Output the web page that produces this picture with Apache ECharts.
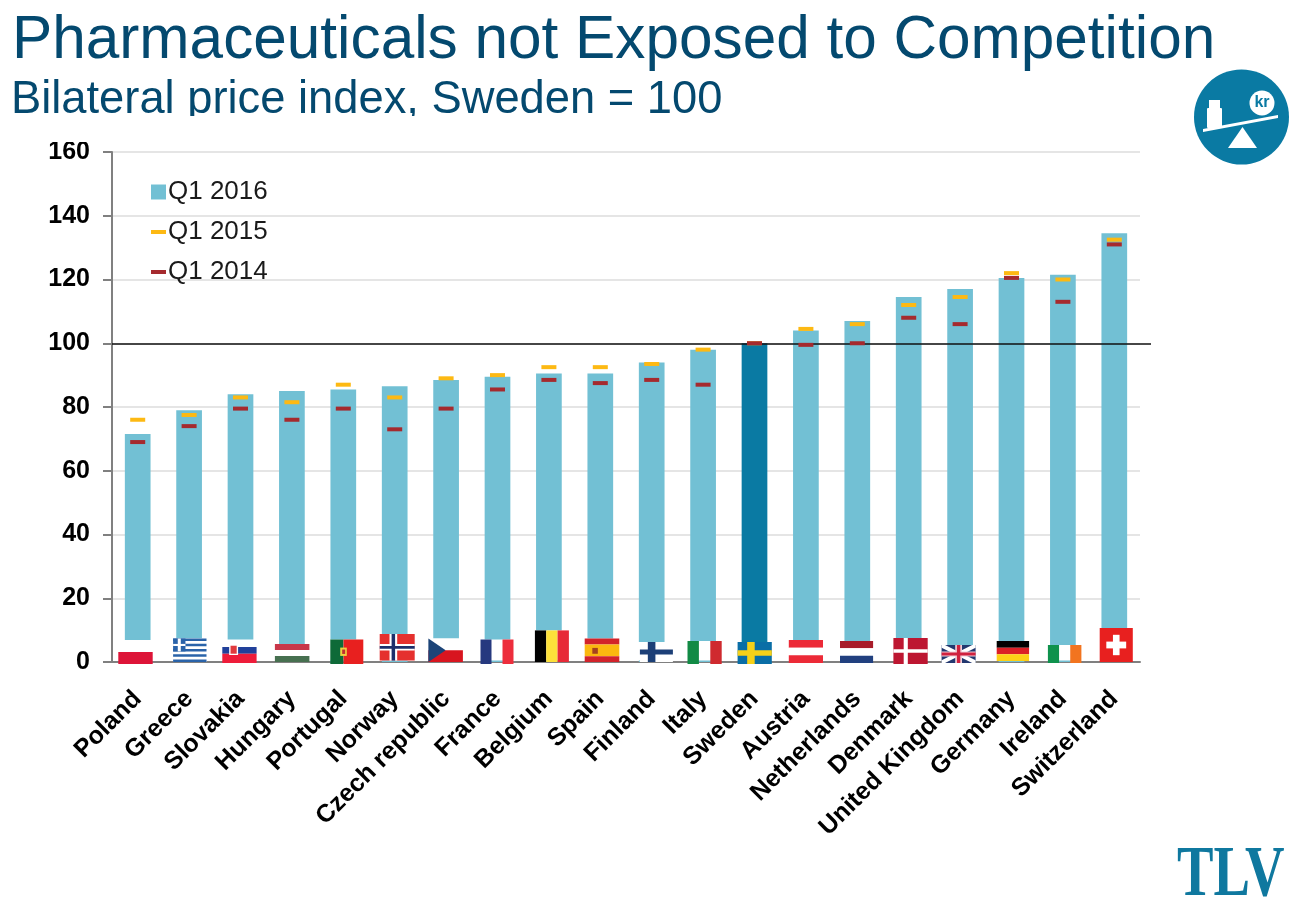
<!DOCTYPE html>
<html><head><meta charset="utf-8">
<style>html,body{margin:0;padding:0;background:#fff}#c{width:1299px;height:902px}</style>
<script src="https://cdn.jsdelivr.net/npm/echarts@6/dist/echarts.min.js"></script>
</head><body><div id="c"></div>
<script>
const countries = ['Poland','Greece','Slovakia','Hungary','Portugal','Norway','Czech republic','France','Belgium','Spain','Finland','Italy','Sweden','Austria','Netherlands','Denmark','United Kingdom','Germany','Ireland','Switzerland'];
const q12016 = [71.5,79,84,85,85.5,86.5,88.5,89.5,90.5,90.5,94,98,100,104,107,114.5,117,120.5,121.5,134.5];
const q12015 = [76,77.5,83,81.5,87,83,89,90,92.5,92.5,93.5,98,100,104.5,106,112,114.5,122,120,132.5];
const q12014 = [69,74,79.5,76,79.5,73,79.5,85.5,88.5,87.5,88.5,87,100,99.5,100,108,106,120.5,113,131];
const yTicks = [0,20,40,60,80,100,120,140,160];

const C = {light:'#72c0d4', dark:'#0a7aa3', yellow:'#fdb913', red:'#a52a2e', title:'#04496f', text:'#1a1a1a'};

// flag placement relative to the category centre and the axis: [dx, width, above, below, maskAbove]
const flagBox = [
 [-19.4,34.4,10,2,22],[-16,33.4,23.5,0,23.5],[-18.2,34.3,15,1,22.5],[-17,34.5,18,0,18],[-13,33,22.5,2,22.5],
 [-15,35,28,-1.4,28],[-17.7,34.5,23.5,0,23.5],[-17,33,22.5,2,22.5],[-14,34,31.6,0,31.6],[-15.6,34.6,23.5,0,23.5],
 [-11.8,33,20,0,20],[-15.6,34.2,21,2,21],[-16.9,34.2,20,2,20],[-17.1,34.2,22,1,22],[-17.3,33.1,21,1,21],
 [-15.3,34.3,24,2,24],[-18.5,34,17,1,17],[-14.8,32.4,21,-1,21],[-15,33.5,17,1,17],[-14.6,33.1,34,0,34]
];
const r=(a,b,c,d,f)=>({t:'r',a,b,c,d,f});
const p=(pts,f)=>({t:'p',pts,f});
const hs=(...cols)=>cols.map((f,i)=>r(0,i/cols.length,1,(i+1)/cols.length,f));
const vs=(...cols)=>cols.map((f,i)=>f?r(i/cols.length,0,(i+1)/cols.length,1,f):null).filter(Boolean);
const nordic=(bg,o,i)=>[r(0,0,1,1,bg),r(.28,0,.5,1,o),r(0,.38,1,.62,o)].concat(i?[r(.34,0,.44,1,i),r(0,.45,1,.55,i)]:[]);
const flagShapes = [
 [r(0,0,1,1,'#dd1438')],
 [r(0,0,1,1,'#fff')].concat([0,2,4,6,8].map(n=>r(0,n/9,1,(n+1)/9,'#2a63a9'))).concat([r(0,0,.37,.55,'#2a63a9'),r(.14,0,.23,.55,'#fff'),r(0,.23,.37,.32,'#fff')]),
 [r(0,0,1,.42,'#21409a'),r(0,.42,1,1,'#ee1c3a'),r(.2,-.16,.46,.5,'#fff'),r(.24,-.08,.42,.42,'#e03a3e')],
 hs('#c8374a','#fff','#477050'),
 [r(0,0,.4,1,'#0e6a38'),r(.4,0,1,1,'#e8201f'),r(.3,.33,.5,.67,'#f0d040'),r(.36,.41,.45,.59,'#c03030')],
 nordic('#e5302e','#fff','#1d2f6b'),
 [r(0,0,1,.5,'#fff'),r(0,.5,1,1,'#d8151f'),p([[0,0],[.5,.5],[0,1]],'#1c4478')],
 vs('#26397f',null,'#ed2e3c'),
 vs('#000','#fde03a','#e72a37'),
 [r(0,0,1,.25,'#d2232a'),r(0,.25,1,.75,'#fbb80f'),r(0,.75,1,1,'#d2232a'),r(.22,.4,.38,.65,'#a5431e')],
 [r(0,0,1,1,'#fff'),r(.24,0,.47,1,'#1c3f77'),r(0,.38,1,.62,'#1c3f77')],
 vs('#128a45',null,'#cf2a2f'),
 nordic('#0a6ea6','#f7d118'),
 hs('#ec2a37','#fff','#ec2a37'),
 hs('#a81c2a','#fff','#21407f'),
 [r(0,0,1,1,'#bd1631'),r(.3,0,.42,1,'#fff'),r(0,.43,1,.57,'#fff')],
 [r(0,0,1,1,'#23386f'),p([[0,0],[.1,0],[1,.85],[1,1],[.9,1],[0,.15]],'#fff'),p([[1,0],[.9,0],[0,.85],[0,1],[.1,1],[1,.15]],'#fff'),r(.4,0,.6,1,'#f0d0d8'),r(0,.36,1,.64,'#f0d0d8'),r(.45,0,.55,1,'#d0213e'),r(0,.42,1,.58,'#d0213e')],
 hs('#000','#db1f26','#fdd016'),
 vs('#0f924d',null,'#f2741f'),
 [r(0,0,1,1,'#e8201f'),r(.4,.2,.6,.8,'#fff'),r(.2,.4,.8,.6,'#fff')]
];

function flagItem(params, api){
  const i = api.value(0), base = api.coord([i,0]), bw = api.size([1,0])[0]*0.5+2;
  const [dx,w,above,below,mask] = flagBox[i];
  const X = base[0]+dx, Y = base[1]-above, H = above+below;
  const kids = [{type:'rect',shape:{x:base[0]-bw/2,y:base[1]-mask,width:bw,height:mask-1.5},style:{fill:'#fff'}}];
  flagShapes[i].forEach(s=>{
    if(s.t==='r') kids.push({type:'rect',shape:{x:X+s.a*w,y:Y+s.b*H,width:(s.c-s.a)*w,height:(s.d-s.b)*H},style:{fill:s.f}});
    else kids.push({type:'polygon',shape:{points:s.pts.map(q=>[X+q[0]*w,Y+q[1]*H])},style:{fill:s.f}});
  });
  return {type:'group',children:kids};
}

const legendBase = (name,top,w,h)=>({show:true,data:[{name,icon:'rect'}],orient:'vertical',left:146,top,itemWidth:w,itemHeight:h,itemGap:0,
  textStyle:{fontFamily:'Liberation Sans',fontSize:26,color:C.text,padding:[0,0,0,-3]},selectedMode:false});

const chart = echarts.init(document.getElementById('c'),null,{renderer:'canvas'});
chart.setOption({
  animation:false,
  backgroundColor:'#fff',
  title:[
    {text:'Pharmaceuticals not Exposed to Competition',left:12,top:11,padding:0,textStyle:{fontFamily:'Liberation Sans',fontSize:60.3,fontWeight:'normal',color:C.title}},
    {text:'Bilateral price index, Sweden = 100',left:11,top:78,padding:0,textStyle:{fontFamily:'Liberation Sans',fontSize:45.3,fontWeight:'normal',color:C.title}}
  ],
  grid:{left:112,right:159,top:152,bottom:240,containLabel:false},
  legend:[
    legendBase('Q1 2016',174,15,15),
    legendBase('Q1 2015',214,15,4),
    legendBase('Q1 2014',254,15,4)
  ],
  xAxis:{type:'category',data:countries,
    axisLine:{lineStyle:{color:'#808080',width:2}},
    axisTick:{length:8,lineStyle:{color:'#808080',width:2}},
    axisLabel:{rotate:45,interval:0,margin:33,fontFamily:'Liberation Sans',fontWeight:'bold',fontSize:25,color:'#000'}},
  yAxis:{type:'value',min:yTicks[0],max:yTicks[yTicks.length-1],interval:20,
    axisLine:{show:true,lineStyle:{color:'#808080',width:2}},
    axisTick:{show:true,length:9,lineStyle:{color:'#808080',width:2}},
    splitLine:{lineStyle:{color:'#dcdcdc',width:1.5}},
    axisLabel:{margin:22,fontFamily:'Liberation Sans',fontWeight:'bold',fontSize:25,color:'#000'}},
  series:[
    {name:'Q1 2016',type:'bar',barWidth:'50%',
     data:q12016.map((v,i)=>countries[i]==='Sweden'?{value:v,itemStyle:{color:C.dark}}:v),
     itemStyle:{color:C.light},
     markLine:{silent:true,symbol:'none',label:{show:false},lineStyle:{color:'#111',width:1.5,type:'solid'},
       data:[[{x:112,yAxis:100},{x:1151,yAxis:100}]]}},
    {name:'Q1 2015',type:'scatter',data:q12015.map((v,i)=>[countries[i],v]),symbol:'rect',symbolSize:[15,4],itemStyle:{color:C.yellow,opacity:1},z:4},
    {name:'Q1 2014',type:'scatter',data:q12014.map((v,i)=>[countries[i],v]),symbol:'rect',symbolSize:[15,4],itemStyle:{color:C.red,opacity:1},z:5},
    {name:'flags',type:'custom',renderItem:flagItem,data:countries.map((c,i)=>[i,0]),encode:{x:0,y:1},z:6,clip:false,silent:true}
  ],
  graphic:[
    {type:'rect',z:100,shape:{x:0,y:116,width:780,height:26},style:{fill:'#fff'}},
    {type:'circle',shape:{cx:1241.5,cy:117,r:47.5},style:{fill:C.dark}},
    {type:'polygon',z:101,shape:{points:[[1203,129],[1278,115],[1278,118],[1203,132]]},style:{fill:'#fff'}},
    {type:'polygon',z:101,shape:{points:[[1228,148],[1257,148],[1242.5,127]]},style:{fill:'#fff'}},
    {type:'rect',z:101,shape:{x:1207,y:108,width:15,height:20,r:1},style:{fill:'#fff'}},
    {type:'rect',z:101,shape:{x:1209,y:100,width:11,height:8},style:{fill:'#fff'}},
    {type:'circle',z:101,shape:{cx:1262,cy:103,r:12.5},style:{fill:'#fff'}},
    {type:'text',z:102,style:{text:'kr',x:1262,y:103,align:'center',verticalAlign:'middle',fontFamily:'Liberation Sans',fontWeight:'bold',fontSize:16,fill:C.dark}},
    {type:'text',z:102,x:1177,y:840,scaleX:0.76,style:{text:'TLV',x:0,y:0,fontFamily:'Liberation Serif',fontWeight:'bold',fontSize:72,fill:'#0f789f'}}
  ]
});
</script></body></html>
